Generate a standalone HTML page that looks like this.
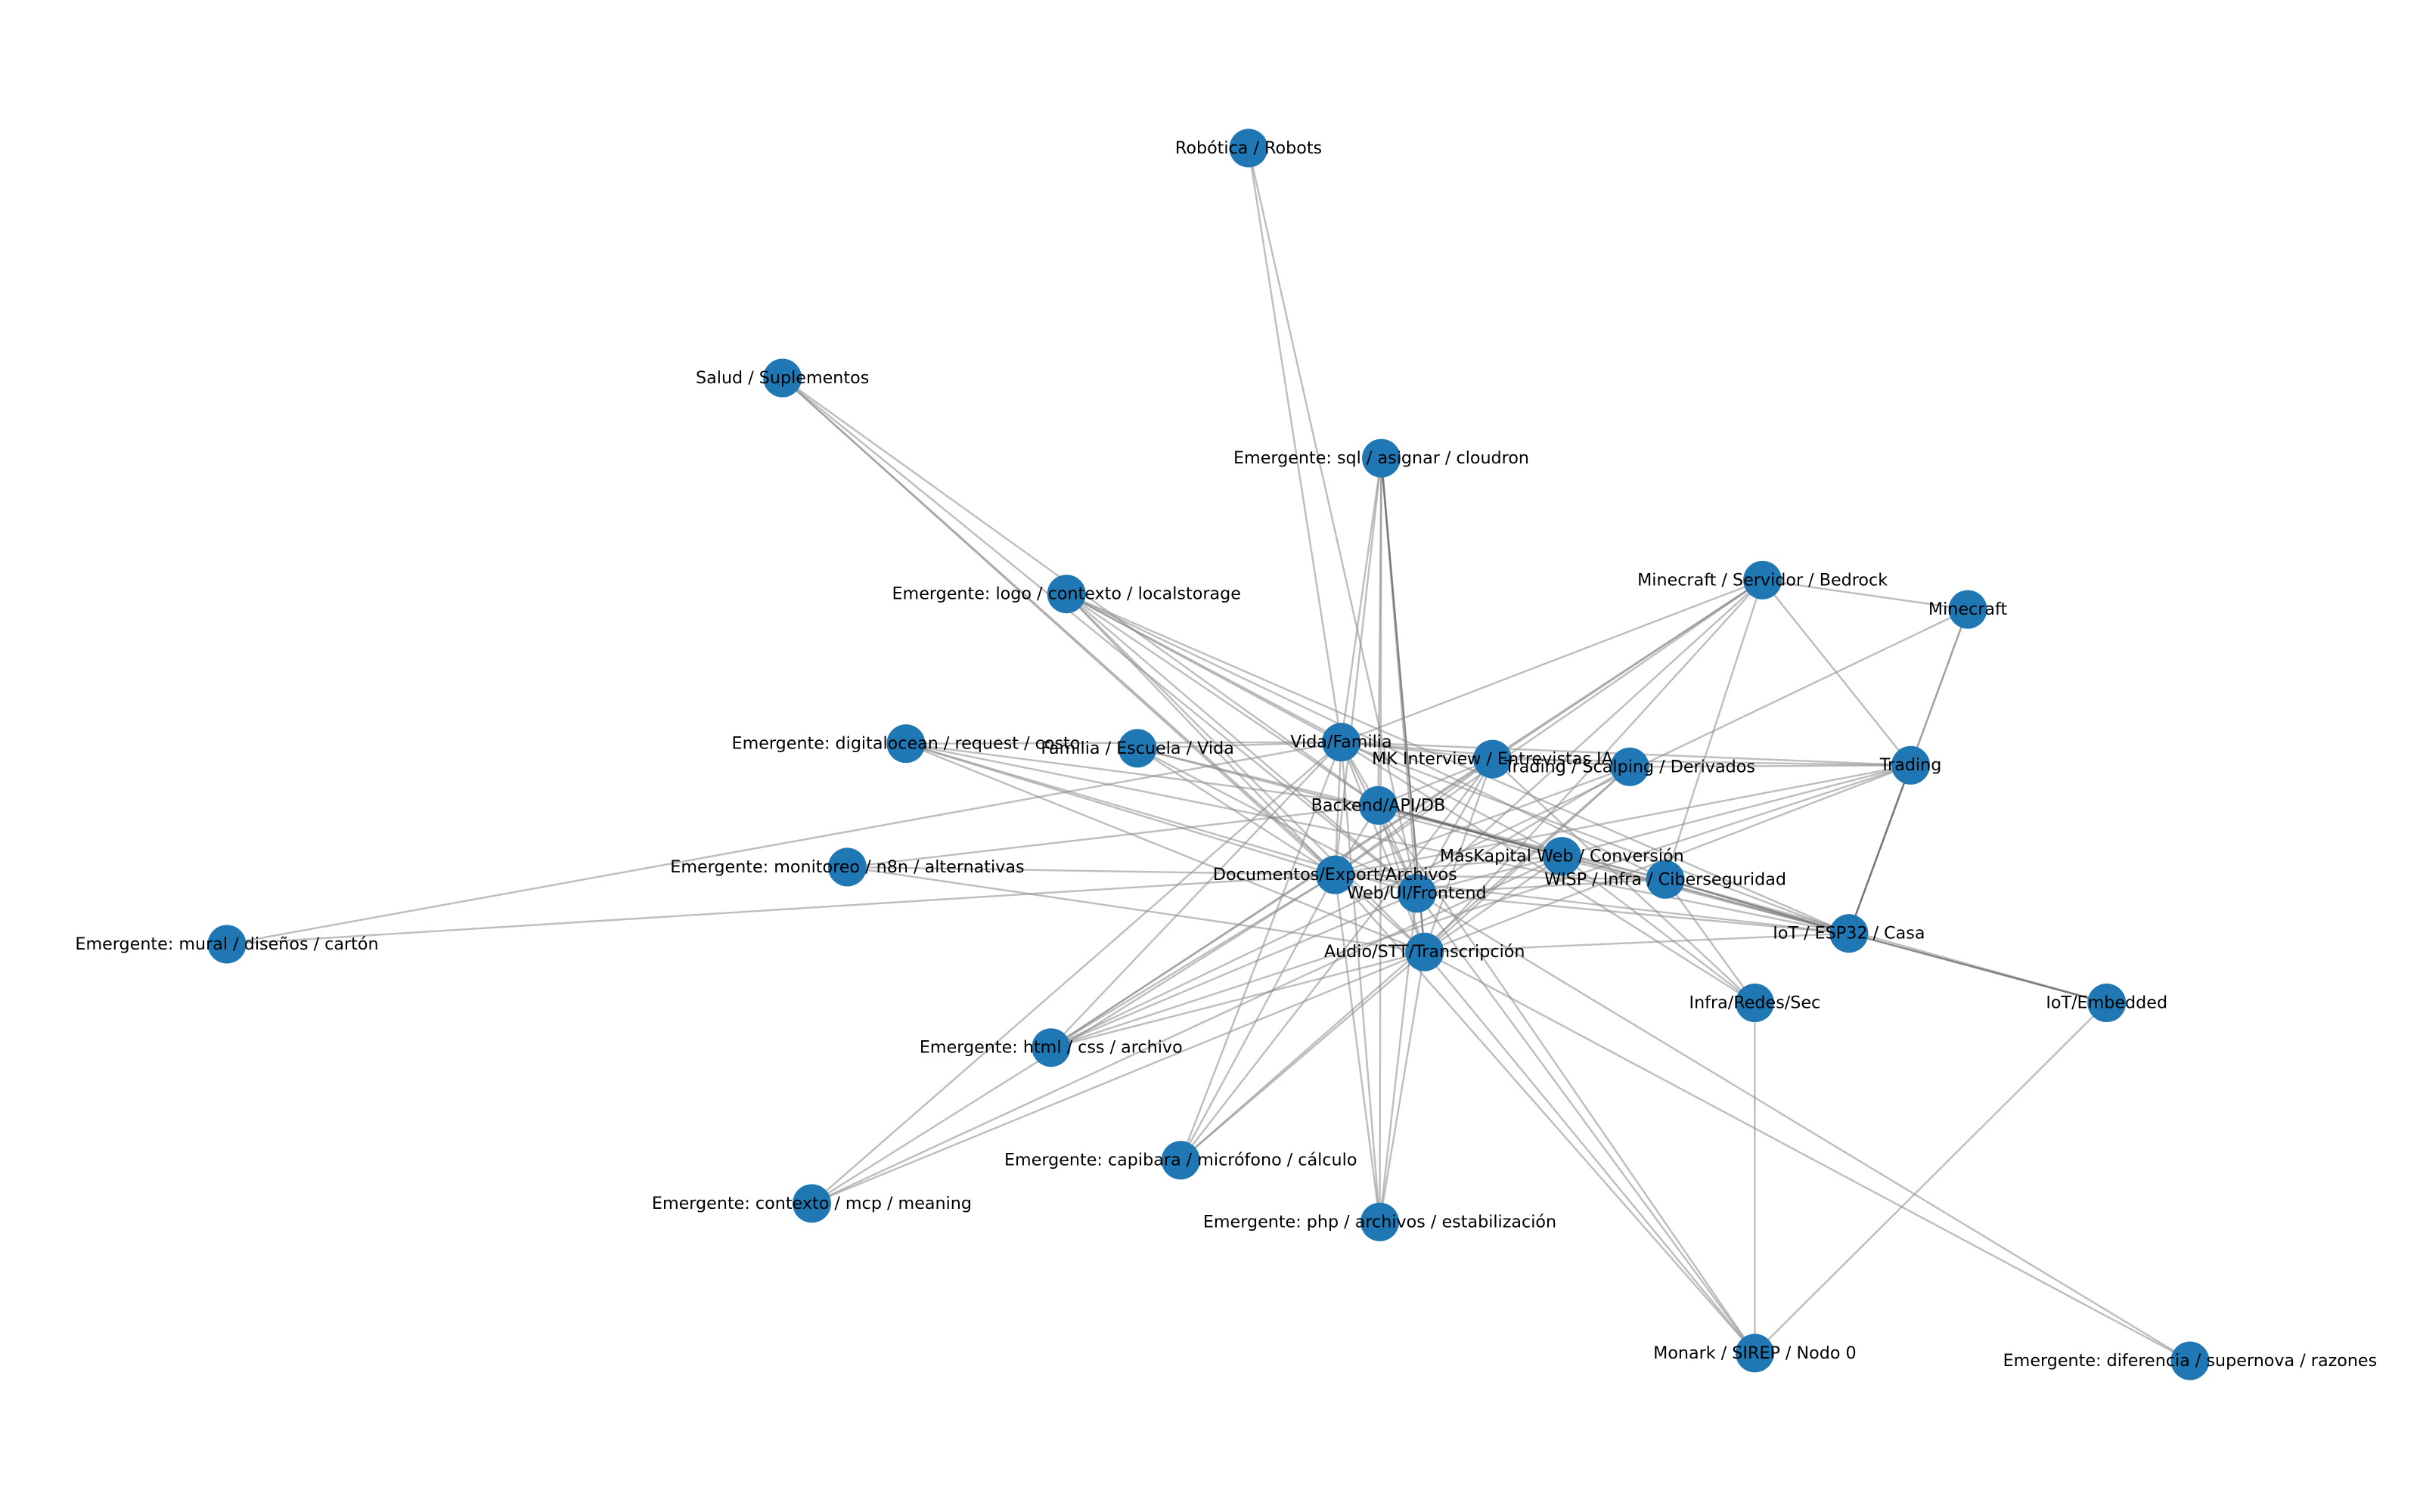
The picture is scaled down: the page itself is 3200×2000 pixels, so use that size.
<!DOCTYPE html>
<html><head><meta charset="utf-8"><style>
html,body{margin:0;padding:0;background:#fff;}
svg{display:block;}
text{font-family:"DejaVu Sans","Liberation Sans",sans-serif;font-size:10.9px;fill:#000;text-anchor:middle;dominant-baseline:central;}
line{stroke:#888;stroke-opacity:0.55;stroke-width:1.2;}
line.d{stroke:#555;stroke-opacity:0.7;}
circle{fill:#1f77b4;}
</style></head><body>
<svg width="3200" height="2000" viewBox="0 0 1568 980" xmlns="http://www.w3.org/2000/svg">
<g id="edges"></g>
<g id="nodes"></g>
</svg>
<script>
var N={
rob:[809,96,"Robótica / Robots"],
sal:[507,245,"Salud / Suplementos"],
sql:[895,297,"Emergente: sql / asignar / cloudron"],
mcs:[1142,376,"Minecraft / Servidor / Bedrock"],
mc:[1275,395,"Minecraft"],
logo:[691,385,"Emergente: logo / contexto / localstorage"],
dig:[587,482,"Emergente: digitalocean / request / costo"],
fam:[737,485,"Familia / Escuela / Vida"],
vida:[869,481,"Vida/Familia"],
mk:[967,492,"MK Interview / Entrevistas IA"],
trs:[1056,497,"Trading / Scalping / Derivados"],
tr:[1238,496,"Trading"],
back:[893,522,"Backend/API/DB"],
mas:[1012,555,"MásKapital Web / Conversión"],
mon:[549,562,"Emergente: monitoreo / n8n / alternativas"],
doc:[865,567,"Documentos/Export/Archivos"],
web:[918,579,"Web/UI/Frontend"],
wisp:[1079,570,"WISP / Infra / Ciberseguridad"],
mur:[147,612,"Emergente: mural / diseños / cartón"],
iot:[1198,605,"IoT / ESP32 / Casa"],
aud:[923,617,"Audio/STT/Transcripción"],
inf:[1137,650,"Infra/Redes/Sec"],
emb:[1365,650,"IoT/Embedded"],
html:[681,679,"Emergente: html / css / archivo"],
cap:[765,752,"Emergente: capibara / micrófono / cálculo"],
ctx:[526,780,"Emergente: contexto / mcp / meaning"],
php:[894,792,"Emergente: php / archivos / estabilización"],
mnk:[1137,877,"Monark / SIREP / Nodo 0"],
dif:[1419,882,"Emergente: diferencia / supernova / razones"]
};
var E="rob-vida rob-web sal-doc sal-web sal-back sal-aud sql-vida sql-back sql-doc sql-web sql-aud:d sql-php logo-vida logo-back logo-doc logo-web logo-aud logo-mas logo-wisp logo-iot mcs-mc mcs-tr mcs-mk mcs-vida mcs-doc mcs-html mcs-aud mcs-wisp mcs-web mc-tr mc-iot mc-html tr-vida tr-mk tr-trs tr-iot:d tr-doc tr-html tr-aud tr-web dig-vida dig-back dig-doc dig-web dig-iot dig-aud fam-vida fam-doc fam-web fam-wisp fam-iot vida-trs vida-mk vida-back vida-doc vida-web vida-aud vida-cap vida-php vida-html vida-ctx vida-iot vida-inf vida-mur mk-html mk-cap mk-doc mk-web mk-aud mk-back mk-inf back-doc back-web back-aud back-wisp back-iot back-mas:d back-mon back-mnk trs-doc trs-web trs-aud trs-cap doc-mur doc-mon doc-wisp doc-iot doc-html doc-ctx doc-cap doc-php doc-mnk doc-mas aud-iot aud-mnk aud-dif aud-html aud-ctx aud-cap aud-php aud-mon aud-mas web-dif web-mnk web-iot web-php web-html web-wisp wisp-inf wisp-iot:d wisp-emb iot-emb:d inf-mnk emb-mnk mas-iot mas-ctx mas-inf";
var eg=document.getElementById("edges"),ng=document.getElementById("nodes"),ns="http://www.w3.org/2000/svg";
E.split(" ").forEach(function(s){var p=s.split(":"),ab=p[0].split("-"),a=N[ab[0]],b=N[ab[1]];
var l=document.createElementNS(ns,"line");l.setAttribute("x1",a[0]);l.setAttribute("y1",a[1]);l.setAttribute("x2",b[0]);l.setAttribute("y2",b[1]);if(p[1])l.setAttribute("class","d");eg.appendChild(l);});
for(var k in N){var n=N[k];var c=document.createElementNS(ns,"circle");c.setAttribute("cx",n[0]);c.setAttribute("cy",n[1]);c.setAttribute("r",12.5);ng.appendChild(c);}
for(var k in N){var n=N[k];var t=document.createElementNS(ns,"text");t.setAttribute("x",n[0]);t.setAttribute("y",n[1]);t.textContent=n[2];ng.appendChild(t);}
</script>
</body></html>
